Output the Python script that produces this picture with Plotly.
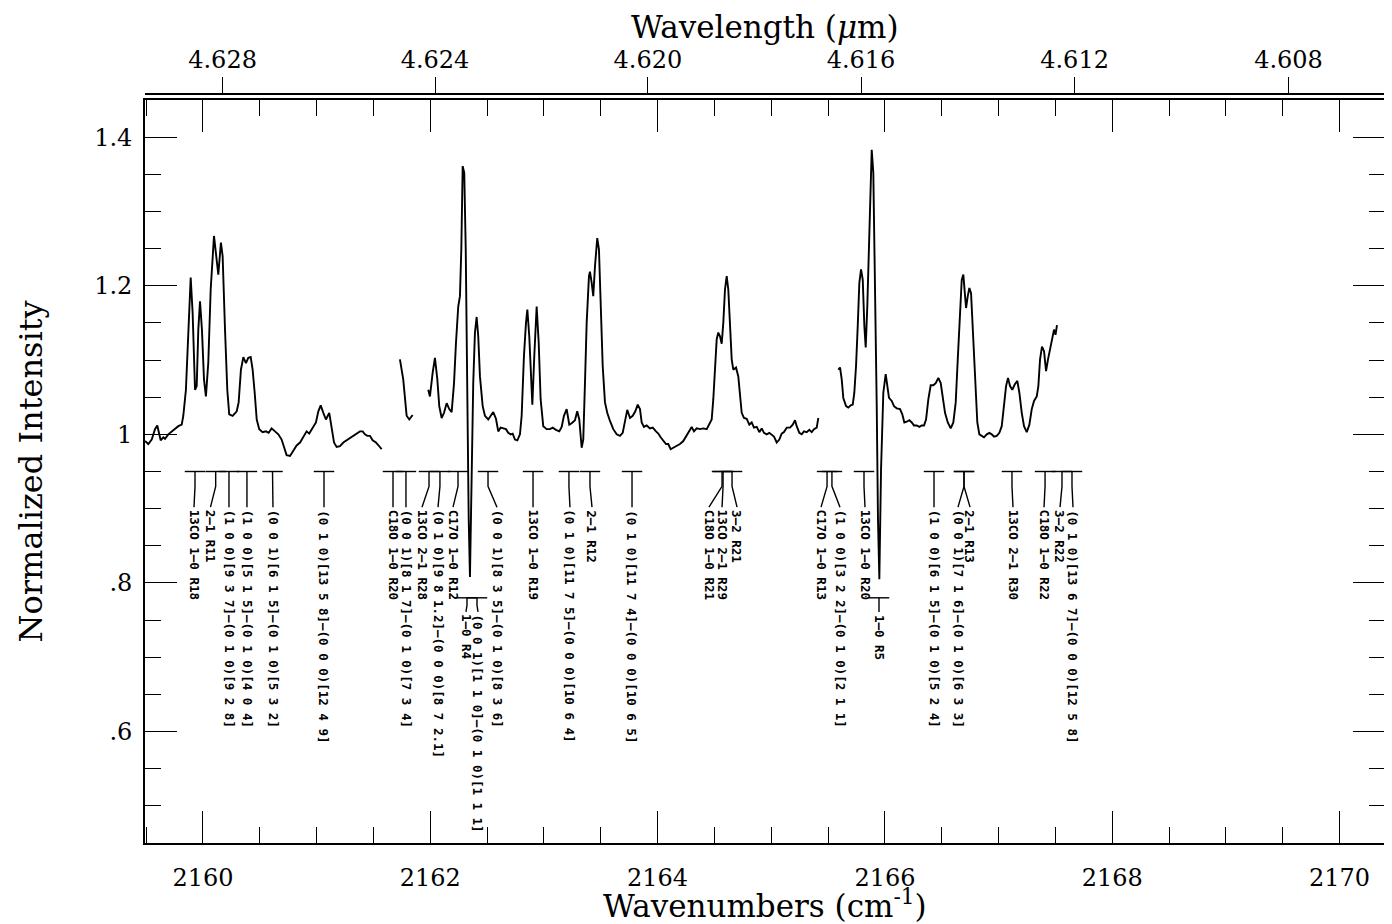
import plotly.graph_objects as go

# ---------------- spectrum (wavenumber cm^-1, normalized intensity) ----------------
seg1_wn = [2159.490, 2159.519, 2159.549, 2159.578, 2159.598, 2159.615, 2159.628, 2159.651, 2159.666, 2159.695,
           2159.725, 2159.754, 2159.783, 2159.813, 2159.827, 2159.850, 2159.871, 2159.892, 2159.909, 2159.930,
           2159.945, 2159.959, 2159.974, 2159.991, 2160.009, 2160.026, 2160.047, 2160.068, 2160.097, 2160.114,
           2160.135, 2160.158, 2160.173, 2160.194, 2160.214, 2160.231, 2160.261, 2160.297, 2160.314, 2160.334,
           2160.355, 2160.378, 2160.399, 2160.420, 2160.437, 2160.455, 2160.473, 2160.495, 2160.525, 2160.554,
           2160.578, 2160.604, 2160.634, 2160.663, 2160.692, 2160.713, 2160.736, 2160.766, 2160.795, 2160.824,
           2160.854, 2160.883, 2160.912, 2160.935, 2160.965, 2160.994, 2161.015, 2161.036, 2161.059, 2161.082,
           2161.111, 2161.132, 2161.153, 2161.176, 2161.205, 2161.235, 2161.264, 2161.293, 2161.322, 2161.352,
           2161.381, 2161.405, 2161.425, 2161.446, 2161.469, 2161.493, 2161.522, 2161.551, 2161.572]
seg1_int = [0.991, 0.987, 0.993, 1.007, 1.012, 1.000, 0.992, 0.996, 0.994, 1.000,
            1.004, 1.007, 1.011, 1.013, 1.025, 1.060, 1.141, 1.211, 1.164, 1.060,
            1.065, 1.141, 1.179, 1.141, 1.074, 1.051, 1.097, 1.195, 1.267, 1.240,
            1.215, 1.258, 1.240, 1.141, 1.060, 1.027, 1.025, 1.031, 1.043, 1.087,
            1.104, 1.096, 1.103, 1.104, 1.087, 1.056, 1.020, 1.007, 1.003, 1.004,
            1.002, 1.008, 1.004, 1.000, 0.993, 0.982, 0.972, 0.971, 0.978, 0.985,
            0.989, 0.996, 1.004, 1.001, 1.008, 1.016, 1.031, 1.039, 1.029, 1.020,
            1.029, 1.007, 0.989, 0.983, 0.984, 0.989, 0.992, 0.996, 0.998, 1.002,
            1.004, 1.004, 1.000, 0.998, 0.998, 0.992, 0.989, 0.984, 0.980]

seg2_wn = [2161.733, 2161.762, 2161.792, 2161.815, 2161.845]
seg2_int = [1.101, 1.074, 1.025, 1.020, 1.026]

seg3_wn = [2161.982, 2161.997, 2162.021, 2162.041, 2162.062, 2162.079, 2162.100, 2162.121, 2162.144, 2162.167,
           2162.188, 2162.209, 2162.226, 2162.246, 2162.261, 2162.273, 2162.285, 2162.299, 2162.312, 2162.326,
           2162.338, 2162.349, 2162.364, 2162.378, 2162.393, 2162.408, 2162.422, 2162.437, 2162.461, 2162.481,
           2162.510, 2162.534, 2162.554, 2162.578, 2162.598, 2162.619, 2162.642, 2162.666, 2162.686, 2162.707,
           2162.725, 2162.745, 2162.766, 2162.789, 2162.804, 2162.824, 2162.842, 2162.854, 2162.871, 2162.898,
           2162.915, 2162.936, 2162.954, 2162.971, 2162.994, 2163.024, 2163.053, 2163.077, 2163.106, 2163.135,
           2163.156, 2163.176, 2163.200, 2163.223, 2163.244, 2163.273, 2163.293, 2163.311, 2163.332, 2163.346,
           2163.361, 2163.376, 2163.396, 2163.405, 2163.420, 2163.434, 2163.449, 2163.469, 2163.484, 2163.499,
           2163.517, 2163.537, 2163.557, 2163.581, 2163.610, 2163.640, 2163.669, 2163.693, 2163.713, 2163.733,
           2163.757, 2163.781, 2163.804, 2163.825, 2163.845, 2163.860, 2163.880, 2163.904, 2163.933, 2163.957,
           2163.986, 2164.006, 2164.027, 2164.050, 2164.074, 2164.094, 2164.115, 2164.138, 2164.168, 2164.197,
           2164.226, 2164.256, 2164.279, 2164.300, 2164.320, 2164.344, 2164.373, 2164.402, 2164.432, 2164.455,
           2164.476, 2164.490, 2164.505, 2164.520, 2164.534, 2164.549, 2164.564, 2164.578, 2164.593, 2164.608,
           2164.622, 2164.637, 2164.652, 2164.666, 2164.690, 2164.710, 2164.725, 2164.740, 2164.760, 2164.784,
           2164.807, 2164.828, 2164.848, 2164.872, 2164.895, 2164.916, 2164.936, 2164.960, 2164.983, 2165.004,
           2165.024, 2165.048, 2165.071, 2165.092, 2165.112, 2165.136, 2165.165, 2165.189, 2165.209, 2165.224,
           2165.247, 2165.268, 2165.288, 2165.312, 2165.335, 2165.356, 2165.376, 2165.400, 2165.414]
seg3_int = [1.060, 1.051, 1.083, 1.103, 1.074, 1.038, 1.022, 1.029, 1.042, 1.034,
            1.030, 1.069, 1.123, 1.172, 1.186, 1.249, 1.361, 1.352, 1.249, 1.025,
            0.886, 0.808, 0.953, 1.069, 1.137, 1.158, 1.132, 1.078, 1.038, 1.025,
            1.020, 1.025, 1.030, 1.021, 1.004, 1.009, 1.008, 1.007, 1.002, 1.000,
            1.001, 0.993, 0.992, 1.000, 1.025, 1.105, 1.150, 1.168, 1.132, 1.040,
            1.105, 1.172, 1.123, 1.047, 1.011, 1.007, 1.007, 1.009, 1.006, 1.004,
            1.010, 1.025, 1.034, 1.013, 1.015, 1.019, 1.031, 1.020, 0.982, 0.993,
            1.069, 1.150, 1.213, 1.219, 1.204, 1.186, 1.226, 1.264, 1.249, 1.181,
            1.092, 1.043, 1.029, 1.018, 1.007, 1.000, 0.998, 1.002, 1.020, 1.033,
            1.022, 1.025, 1.031, 1.040, 1.034, 1.016, 1.010, 1.012, 1.008, 1.009,
            1.004, 1.001, 0.996, 0.991, 0.987, 0.987, 0.980, 0.982, 0.984, 0.987,
            0.991, 0.998, 1.004, 1.010, 1.004, 1.008, 1.007, 1.008, 1.007, 1.013,
            1.020, 1.047, 1.096, 1.128, 1.137, 1.132, 1.122, 1.150, 1.195, 1.213,
            1.195, 1.150, 1.101, 1.087, 1.090, 1.078, 1.051, 1.029, 1.022, 1.021,
            1.013, 1.016, 1.009, 1.010, 1.003, 1.008, 1.002, 1.000, 1.002, 0.999,
            0.997, 0.989, 0.993, 1.001, 1.003, 1.009, 1.009, 1.013, 1.019, 1.011,
            1.002, 1.000, 1.004, 1.003, 1.006, 1.003, 1.007, 1.009, 1.022]

seg4_wn = [2165.590, 2165.605, 2165.620, 2165.634, 2165.658, 2165.678, 2165.699, 2165.717, 2165.731, 2165.746,
           2165.761, 2165.775, 2165.790, 2165.805, 2165.819, 2165.831, 2165.845, 2165.860, 2165.875, 2165.884,
           2165.898, 2165.913, 2165.928, 2165.939, 2165.951, 2165.966, 2165.986, 2166.007, 2166.021, 2166.036,
           2166.060, 2166.080, 2166.104, 2166.133, 2166.153, 2166.171, 2166.192, 2166.215, 2166.236, 2166.256,
           2166.280, 2166.303, 2166.324, 2166.344, 2166.362, 2166.382, 2166.403, 2166.426, 2166.447, 2166.470,
           2166.491, 2166.509, 2166.529, 2166.553, 2166.579, 2166.602, 2166.623, 2166.641, 2166.661, 2166.676,
           2166.690, 2166.702, 2166.714, 2166.729, 2166.743, 2166.758, 2166.773, 2166.793, 2166.813, 2166.831,
           2166.852, 2166.872, 2166.896, 2166.919, 2166.940, 2166.960, 2166.984, 2167.007, 2167.028, 2167.048,
           2167.066, 2167.083, 2167.101, 2167.121, 2167.142, 2167.165, 2167.183, 2167.204, 2167.224, 2167.248,
           2167.271, 2167.292, 2167.312, 2167.336, 2167.350, 2167.365, 2167.382, 2167.400, 2167.418, 2167.435,
           2167.462, 2167.488, 2167.501, 2167.514]
seg4_int = [1.087, 1.090, 1.074, 1.049, 1.038, 1.036, 1.039, 1.040, 1.056, 1.092,
            1.146, 1.204, 1.222, 1.208, 1.146, 1.117, 1.172, 1.262, 1.361, 1.383,
            1.352, 1.217, 1.038, 0.886, 0.805, 0.953, 1.056, 1.081, 1.065, 1.049,
            1.045, 1.038, 1.035, 1.034, 1.027, 1.016, 1.017, 1.019, 1.016, 1.012,
            1.012, 1.010, 1.012, 1.012, 1.020, 1.047, 1.066, 1.066, 1.069, 1.076,
            1.069, 1.047, 1.029, 1.016, 1.008, 1.016, 1.043, 1.101, 1.172, 1.208,
            1.215, 1.195, 1.170, 1.186, 1.197, 1.190, 1.141, 1.065, 1.016, 1.000,
            0.998, 0.996, 1.000, 1.002, 1.000, 0.997, 0.998, 1.002, 1.011, 1.038,
            1.065, 1.076, 1.065, 1.060, 1.067, 1.072, 1.056, 1.029, 1.011, 1.003,
            1.013, 1.034, 1.045, 1.051, 1.065, 1.101, 1.118, 1.112, 1.085, 1.101,
            1.121, 1.141, 1.134, 1.147]

segments = [(seg1_wn, seg1_int), (seg2_wn, seg2_int), (seg3_wn, seg3_int), (seg4_wn, seg4_int)]

# ---------------- line identifications ----------------
upper_line_pos = [2159.930, 2160.112, 2160.229, 2160.387, 2160.612, 2161.065, 2161.672, 2161.786,
                  2161.989, 2162.085, 2162.244, 2162.508, 2162.904, 2163.220, 2163.405, 2163.775,
                  2164.567, 2164.576, 2164.655, 2165.491, 2165.534, 2165.816, 2166.432, 2166.696,
                  2166.696, 2167.118, 2167.409, 2167.558, 2167.646]
upper_text_pos = [2159.921, 2160.066, 2160.229, 2160.387, 2160.616, 2161.065, 2161.672, 2161.786,
                  2161.927, 2162.068, 2162.200, 2162.587, 2162.904, 2163.229, 2163.423, 2163.775,
                  2164.452, 2164.567, 2164.699, 2165.438, 2165.605, 2165.825, 2166.432, 2166.643,
                  2166.749, 2167.127, 2167.400, 2167.541, 2167.655]
upper_labels = ["13CO 1–0 R18", "2–1 R11", "(1 0 0)[9 3 7]–(0 1 0)[9 2 8]",
                "(1 0 0)[5 1 5]–(0 1 0)[4 0 4]", "(0 0 1)[6 1 5]–(0 1 0)[5 3 2]",
                "(0 1 0)[13 5 8]–(0 0 0)[12 4 9]", "C18O 1–0 R20", "(0 0 1)[8 1 7]–(0 1 0)[7 3 4]",
                "13CO 2–1 R28", "(0 1 0)[9 8 1.2]–(0 0 0)[8 7 2.1]", "C17O 1–0 R12",
                "(0 0 1)[8 3 5]–(0 1 0)[8 3 6]", "13CO 1–0 R19", "(0 1 0)[11 7 5]–(0 0 0)[10 6 4]",
                "2–1 R12", "(0 1 0)[11 7 4]–(0 0 0)[10 6 5]", "C18O 1–0 R21", "13CO 2–1 R29",
                "3–2 R21", "C17O 1–0 R13", "(1 0 0)[3 2 2]–(0 1 0)[2 1 1]", "13CO 1–0 R20",
                "(1 0 0)[6 1 5]–(0 1 0)[5 2 4]", "(0 0 1)[7 1 6]–(0 1 0)[6 3 3]", "2–1 R13",
                "13CO 2–1 R30", "C18O 1–0 R22", "3–2 R22", "(0 1 0)[13 6 7]–(0 0 0)[12 5 8]"]

lower_line_pos = [2162.323, 2162.411, 2165.948]
lower_text_pos = [2162.314, 2162.420, 2165.948]
lower_labels = ["1–0 R4", "(0 0 1)[1 1 0]–(0 1 0)[1 1 1]", "1–0 R5"]

UPPER_LEVEL = 0.95
LOWER_LEVEL = 0.78

# wavelength axis (top)
wavelength_ticks = [4.628, 4.624, 4.620, 4.616, 4.612, 4.608]
WN_SHIFT = 0.588   # offset between 1e4/lambda and plotted wavenumber scale

X_RANGE = [2159.49, 2170.40]
Y_RANGE = [0.45, 1.45]

fig = go.Figure()

for wn, inten in segments:
    fig.add_trace(go.Scatter(x=wn, y=inten, mode="lines",
                             line=dict(color="black", width=1.9),
                             hoverinfo="skip", showlegend=False))


def marker_geometry(pos_list, txt_list, level, d1, d2, half=0.09):
    xs, ys = [], []
    for p, t in zip(pos_list, txt_list):
        xs += [p - half, p + half, None]
        ys += [level, level, None]
        xs += [p, p, t, None]
        ys += [level, level - d1, level - d2, None]
    return xs, ys


ux, uy = marker_geometry(upper_line_pos, upper_text_pos, UPPER_LEVEL, 0.020, 0.048)
lx, ly = marker_geometry(lower_line_pos, lower_text_pos, LOWER_LEVEL, 0.010, 0.019)
fig.add_trace(go.Scatter(x=ux + lx, y=uy + ly, mode="lines",
                         line=dict(color="black", width=1.4),
                         hoverinfo="skip", showlegend=False))

lab_font = dict(family="DejaVu Sans Mono", size=12.5, color="black", weight="bold")
for t, lab in zip(upper_text_pos, upper_labels):
    fig.add_annotation(x=t, y=UPPER_LEVEL - 0.050, text=lab, textangle=90,
                       xanchor="center", yanchor="top", showarrow=False,
                       font=lab_font, borderpad=0)
for t, lab in zip(lower_text_pos, lower_labels):
    fig.add_annotation(x=t, y=LOWER_LEVEL - 0.021, text=lab, textangle=90,
                       xanchor="center", yanchor="top", showarrow=False,
                       font=lab_font, borderpad=0)

# invisible trace to activate the top wavelength axis
wl_pos = [1e4 / w - WN_SHIFT for w in wavelength_ticks]
fig.add_trace(go.Scatter(x=wl_pos, y=[1.0] * len(wl_pos), xaxis="x2", mode="markers",
                         marker=dict(opacity=0), hoverinfo="skip", showlegend=False))

tick_font = dict(family="DejaVu Serif", size=24, color="black")
title_font = dict(family="DejaVu Serif", size=31, color="black")

# the page body adds an 8 px offset; figure is sized to fill the rest of the window
W, H = 1384, 916
ml, mr, mt, mb = 137, 7, 86, 81
plot_w = W - ml - mr
plot_h = H - mt - mb
frame_top = 1 - 6 / plot_h

# axis titles as paper annotations (fixed positions)
fig.add_annotation(xref="paper", yref="paper", x=0.5, y=(H - mb - 896) / plot_h,
                   text="Wavenumbers (cm<sup>-1</sup>)", showarrow=False,
                   xanchor="center", yanchor="middle", font=title_font, borderpad=0)
fig.add_annotation(xref="paper", yref="paper", x=0.5, y=(H - mb - 19) / plot_h,
                   text="Wavelength (<i>μ</i>m)", showarrow=False,
                   xanchor="center", yanchor="middle", font=title_font, borderpad=0)
fig.add_annotation(xref="paper", yref="paper", x=(22 - ml) / plot_w, y=frame_top / 2,
                   text="Normalized Intensity", showarrow=False, textangle=-90,
                   xanchor="center", yanchor="middle",
                   font=dict(family="DejaVu Serif", size=32, color="black"), borderpad=0)

fig.update_layout(
    width=W, height=H,
    margin=dict(l=ml, r=mr, t=mt, b=mb, autoexpand=False),
    paper_bgcolor="white", plot_bgcolor="white",
    showlegend=False,
    xaxis=dict(range=X_RANGE, tick0=2160, dtick=2, ticks="inside", ticklen=32, tickwidth=1.3,
               tickcolor="black", showline=True, linecolor="black", linewidth=1.6,
               mirror="ticks", showgrid=False, zeroline=False, tickfont=tick_font,
               ticklabelstandoff=12, automargin=False,
               minor=dict(dtick=0.5, tick0=2160, ticks="inside", ticklen=16, tickwidth=1.3,
                          tickcolor="black", showgrid=False)),
    xaxis2=dict(range=X_RANGE, overlaying="x", side="top", anchor="free", position=1.0,
                tickmode="array", tickvals=wl_pos, ticktext=[f"{w:.3f}" for w in wavelength_ticks],
                ticks="outside", ticklen=16, tickwidth=1.3, tickcolor="black",
                showline=True, linecolor="black", linewidth=1.6, showgrid=False, zeroline=False,
                tickfont=tick_font, automargin=False),
    yaxis=dict(range=Y_RANGE, domain=[0, frame_top], tickmode="array",
               tickvals=[0.6, 0.8, 1.0, 1.2, 1.4], ticktext=[".6", ".8", "1", "1.2", "1.4"],
               ticks="inside", ticklen=32, tickwidth=1.3, tickcolor="black",
               showline=True, linecolor="black", linewidth=1.6, mirror="ticks",
               showgrid=False, zeroline=False, tickfont=tick_font, ticklabelstandoff=6,
               automargin=False,
               minor=dict(tickvals=[round(0.45 + 0.05 * i, 2) for i in range(21)],
                          ticks="inside", ticklen=16, tickwidth=1.3, tickcolor="black",
                          showgrid=False)),
)

fig.write_html("out.html")
